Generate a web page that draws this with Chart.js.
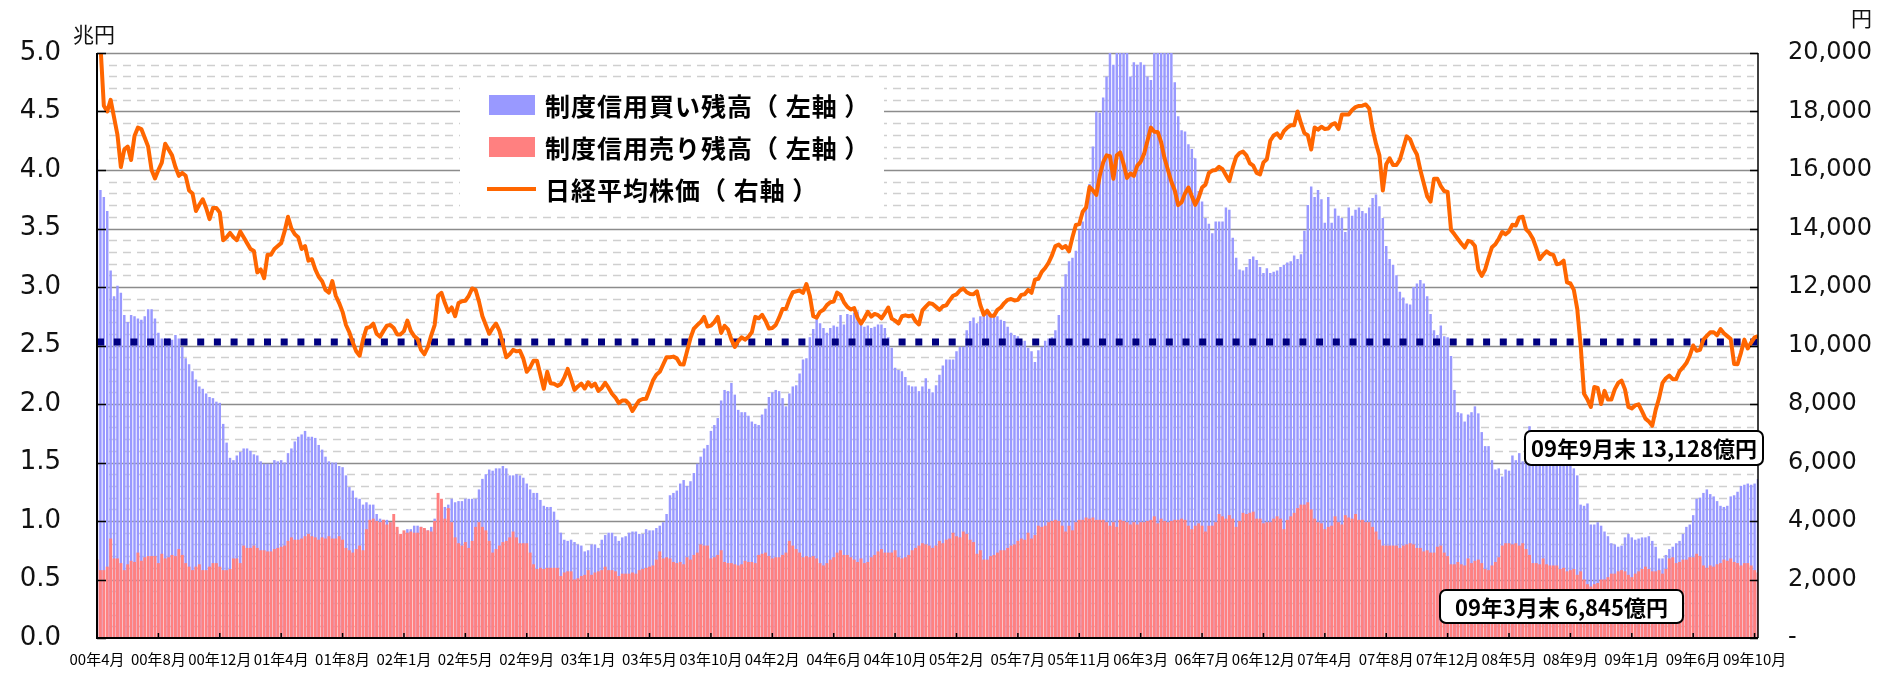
<!DOCTYPE html>
<html lang="ja">
<head>
<meta charset="utf-8">
<title>制度信用残高と日経平均株価</title>
<script src="https://cdn.jsdelivr.net/npm/chart.js@4.4.0/dist/chart.umd.min.js"></script>
<style>
  html, body { margin: 0; padding: 0; background: #fff; }
  #wrap { width: 1892px; height: 673px; }
</style>
</head>
<body>
<div id="wrap"><canvas id="chart" width="1892" height="673"></canvas></div>
<script>
// 週次データ 2000年4月〜2009年10月（18週ごとに目盛ラベル）
const tickLabels = [
  '00年4月', '00年8月', '00年12月', '01年4月', '01年8月', '02年1月', '02年5月',
  '02年9月', '03年1月', '03年5月', '03年10月', '04年2月', '04年6月', '04年10月',
  '05年2月', '05年7月', '05年11月', '06年3月', '06年7月', '06年12月', '07年4月',
  '07年8月', '07年12月', '08年5月', '08年9月', '09年1月', '09年6月', '09年10月'
];
const LABEL_STEP = 18;

// 制度信用買い残高（兆円）
const buyBalance = [
  4.09,3.83,3.77,3.65,3.14,2.92,3.01,2.95,2.76,2.70,
  2.76,2.75,2.73,2.72,2.75,2.81,2.81,2.73,2.61,2.56,
  2.56,2.56,2.55,2.59,2.56,2.49,2.39,2.34,2.28,2.21,
  2.15,2.13,2.09,2.06,2.05,2.02,2.01,1.83,1.67,1.54,
  1.52,1.56,1.59,1.62,1.62,1.60,1.57,1.56,1.51,1.49,
  1.49,1.49,1.52,1.51,1.52,1.50,1.58,1.62,1.68,1.72,
  1.74,1.77,1.72,1.72,1.71,1.65,1.61,1.55,1.51,1.50,
  1.50,1.47,1.46,1.39,1.29,1.26,1.20,1.19,1.14,1.16,
  1.14,1.14,1.06,1.02,1.01,1.01,0.99,0.99,0.92,0.87,
  0.90,0.93,0.93,0.96,0.96,0.95,0.93,0.92,0.95,1.02,
  1.09,1.11,1.12,1.14,1.19,1.16,1.17,1.17,1.19,1.19,
  1.19,1.19,1.27,1.36,1.40,1.44,1.43,1.45,1.45,1.47,
  1.45,1.39,1.39,1.40,1.39,1.37,1.32,1.27,1.24,1.24,
  1.18,1.13,1.12,1.12,1.08,1.01,0.90,0.84,0.83,0.84,
  0.82,0.80,0.79,0.74,0.75,0.80,0.80,0.77,0.84,0.88,
  0.90,0.90,0.87,0.83,0.86,0.87,0.90,0.91,0.91,0.89,
  0.89,0.93,0.92,0.92,0.94,0.96,0.99,1.06,1.22,1.24,
  1.26,1.32,1.35,1.30,1.34,1.41,1.49,1.55,1.62,1.65,
  1.77,1.82,1.88,2.03,2.12,2.11,2.18,2.08,1.95,1.93,
  1.93,1.90,1.85,1.83,1.82,1.91,1.96,2.06,2.10,2.12,
  2.11,2.05,1.98,2.09,2.15,2.16,2.26,2.38,2.39,2.57,
  2.64,2.76,2.69,2.65,2.61,2.65,2.67,2.66,2.76,2.68,
  2.77,2.76,2.78,2.79,2.68,2.66,2.67,2.65,2.66,2.68,
  2.68,2.65,2.57,2.48,2.31,2.29,2.28,2.23,2.16,2.15,
  2.15,2.11,2.15,2.22,2.13,2.10,2.16,2.25,2.33,2.38,
  2.38,2.38,2.45,2.49,2.49,2.63,2.71,2.74,2.69,2.75,
  2.79,2.81,2.75,2.77,2.75,2.72,2.71,2.66,2.61,2.59,
  2.58,2.54,2.54,2.48,2.45,2.36,2.46,2.49,2.54,2.56,
  2.57,2.63,2.76,3.00,3.11,3.22,3.25,3.31,3.49,3.56,
  3.70,3.88,4.20,4.50,4.49,4.62,4.80,5.15,4.90,5.20,
  5.30,5.25,5.10,4.80,4.92,4.90,4.92,4.90,4.80,4.77,
  5.10,5.25,5.30,5.20,5.15,5.05,4.75,4.46,4.34,4.33,
  4.22,4.18,4.10,3.82,3.73,3.59,3.54,3.46,3.56,3.56,
  3.56,3.68,3.66,3.42,3.25,3.15,3.14,3.17,3.24,3.26,
  3.23,3.17,3.12,3.16,3.12,3.13,3.14,3.17,3.19,3.21,
  3.22,3.27,3.24,3.28,3.48,3.70,3.86,3.77,3.83,3.75,
  3.55,3.77,3.55,3.67,3.61,3.59,3.47,3.68,3.61,3.66,
  3.68,3.65,3.63,3.68,3.76,3.79,3.69,3.59,3.35,3.24,
  3.19,3.10,2.96,2.91,2.86,2.85,3.00,3.03,3.06,3.03,
  2.92,2.77,2.63,2.59,2.67,2.58,2.57,2.41,2.12,1.93,
  1.92,1.85,1.91,1.93,1.98,1.92,1.76,1.64,1.64,1.52,
  1.44,1.45,1.38,1.44,1.43,1.56,1.52,1.58,1.51,1.62,
  1.81,1.66,1.63,1.68,1.70,1.66,1.64,1.60,1.62,1.58,
  1.55,1.52,1.50,1.45,1.39,1.14,1.13,1.15,0.97,0.97,
  0.99,0.96,0.91,0.87,0.81,0.80,0.78,0.79,0.86,0.89,
  0.86,0.84,0.85,0.86,0.86,0.87,0.83,0.78,0.68,0.68,
  0.71,0.76,0.78,0.81,0.83,0.89,0.95,0.97,1.05,1.19,
  1.20,1.24,1.27,1.23,1.21,1.17,1.13,1.12,1.13,1.21,
  1.22,1.25,1.30,1.31,1.32,1.31,1.32,1.36
];

// 制度信用売り残高（兆円）
const sellBalance = [
  0.67,0.58,0.58,0.61,0.85,0.68,0.68,0.64,0.58,0.63,
  0.66,0.65,0.73,0.66,0.69,0.70,0.70,0.70,0.64,0.72,
  0.68,0.69,0.71,0.70,0.76,0.71,0.64,0.61,0.58,0.61,
  0.63,0.58,0.58,0.61,0.64,0.64,0.61,0.58,0.58,0.59,
  0.68,0.68,0.64,0.79,0.77,0.77,0.79,0.77,0.75,0.75,
  0.74,0.74,0.76,0.77,0.78,0.79,0.83,0.86,0.84,0.84,
  0.85,0.87,0.89,0.87,0.86,0.84,0.86,0.85,0.87,0.85,
  0.85,0.87,0.84,0.77,0.75,0.73,0.76,0.79,0.75,0.93,
  1.01,1.02,1.00,0.99,1.01,0.97,0.99,1.06,0.95,0.89,
  0.92,0.90,0.91,0.90,0.90,0.95,0.94,0.92,0.91,1.00,
  1.24,1.19,1.02,1.11,0.99,0.86,0.81,0.79,0.82,0.77,
  0.83,0.95,0.99,0.95,0.92,0.83,0.73,0.76,0.79,0.82,
  0.83,0.86,0.91,0.86,0.81,0.81,0.81,0.73,0.63,0.59,
  0.60,0.59,0.60,0.60,0.60,0.60,0.53,0.56,0.57,0.57,
  0.50,0.51,0.53,0.54,0.58,0.54,0.56,0.57,0.58,0.61,
  0.58,0.58,0.57,0.53,0.55,0.55,0.55,0.56,0.55,0.58,
  0.59,0.60,0.61,0.62,0.67,0.74,0.68,0.69,0.68,0.65,
  0.64,0.65,0.63,0.69,0.67,0.71,0.73,0.80,0.79,0.79,
  0.68,0.69,0.71,0.75,0.65,0.64,0.64,0.63,0.62,0.63,
  0.66,0.65,0.65,0.64,0.71,0.72,0.73,0.70,0.68,0.69,
  0.69,0.71,0.73,0.83,0.79,0.76,0.73,0.69,0.70,0.69,
  0.70,0.68,0.64,0.62,0.64,0.67,0.69,0.73,0.75,0.71,
  0.71,0.69,0.67,0.65,0.68,0.64,0.65,0.69,0.71,0.74,
  0.76,0.73,0.73,0.73,0.75,0.69,0.68,0.69,0.71,0.75,
  0.77,0.79,0.81,0.80,0.79,0.77,0.79,0.83,0.81,0.84,
  0.85,0.90,0.87,0.86,0.91,0.89,0.84,0.82,0.72,0.75,
  0.67,0.67,0.70,0.71,0.73,0.75,0.75,0.77,0.79,0.80,
  0.83,0.85,0.84,0.90,0.85,0.88,0.96,0.95,0.96,0.99,
  1.00,1.01,1.00,0.96,0.91,0.96,0.92,0.99,1.01,1.01,
  1.03,1.02,1.03,1.01,1.01,1.01,0.99,0.96,0.99,0.95,
  1.01,1.00,0.99,0.97,0.99,0.97,0.99,0.99,1.00,1.01,
  1.04,0.98,1.02,1.00,0.99,1.00,1.01,1.01,1.02,1.01,
  0.96,0.93,0.96,0.98,0.96,0.91,0.96,0.96,0.99,1.06,
  1.04,1.02,1.05,1.02,0.95,1.00,1.07,1.06,1.07,1.08,
  1.02,1.02,0.98,0.99,0.99,1.02,1.04,1.02,0.93,1.01,
  1.04,1.07,1.11,1.14,1.14,1.16,1.10,1.02,0.99,0.98,
  0.93,0.95,0.96,1.04,0.99,0.97,1.05,1.03,1.02,1.06,
  1.01,1.01,0.99,0.99,0.95,0.91,0.84,0.79,0.79,0.79,
  0.79,0.79,0.77,0.79,0.80,0.81,0.80,0.77,0.77,0.74,
  0.75,0.73,0.73,0.78,0.79,0.73,0.70,0.63,0.63,0.65,
  0.63,0.62,0.68,0.64,0.66,0.67,0.64,0.59,0.58,0.62,
  0.65,0.69,0.79,0.81,0.81,0.80,0.81,0.79,0.81,0.76,
  0.71,0.64,0.64,0.63,0.68,0.63,0.62,0.62,0.62,0.59,
  0.60,0.57,0.58,0.59,0.54,0.57,0.50,0.46,0.44,0.46,
  0.47,0.50,0.50,0.52,0.55,0.55,0.57,0.58,0.57,0.54,
  0.52,0.55,0.57,0.59,0.61,0.59,0.57,0.57,0.58,0.55,
  0.59,0.68,0.69,0.64,0.65,0.67,0.67,0.69,0.69,0.72,
  0.70,0.62,0.60,0.62,0.61,0.63,0.64,0.67,0.66,0.68,
  0.65,0.64,0.62,0.64,0.64,0.62,0.58,0.56
];

// 日経平均株価（円）
const nikkei = [
  20500,20300,18200,18000,18400,17800,17200,16100,16700,16800,
  16340,17160,17450,17400,17100,16800,16000,15710,16000,16250,
  16900,16700,16500,16100,15800,15900,15800,15300,15200,14600,
  14810,15000,14700,14320,14700,14700,14550,13600,13700,13850,
  13700,13600,13900,13700,13500,13300,13230,12500,12600,12300,
  13100,13100,13300,13400,13500,13900,14400,14000,13800,13700,
  13300,13400,12900,12950,12600,12350,12200,11900,11810,12200,
  11700,11450,11150,10700,10450,10100,9800,9650,10200,10600,
  10630,10750,10400,10300,10500,10680,10700,10600,10380,10380,
  10490,10850,10500,10320,10220,9850,9700,9950,10350,10700,
  11700,11800,11450,11150,11300,11000,11450,11510,11530,11700,
  11950,11900,11500,11000,10700,10400,10600,10750,10500,10050,
  9600,9700,9850,9800,9820,9550,9100,9250,9480,9480,
  9000,8520,9100,8710,8690,8620,8680,8900,9200,8850,
  8480,8600,8700,8530,8740,8600,8700,8450,8550,8720,
  8550,8350,8220,8030,8120,8120,8000,7760,7950,8120,
  8170,8180,8480,8800,9000,9100,9350,9600,9600,9620,
  9560,9360,9350,9800,10250,10580,10700,10800,10980,10650,
  10680,10800,10980,10430,10670,10550,10200,9950,10150,10280,
  10200,10300,10450,10980,10930,11050,10850,10580,10600,10700,
  10950,11250,11250,11570,11820,11850,11880,11800,12100,11700,
  11000,10950,11150,11220,11380,11480,11500,11810,11730,11480,
  11320,11230,11280,10950,10750,10930,11150,10990,11080,11040,
  10930,11100,11300,10920,10850,10750,11000,11030,11000,11030,
  10830,10720,11200,11330,11450,11420,11320,11220,11340,11370,
  11550,11700,11750,11880,11950,11820,11760,11750,11850,11380,
  11050,11190,11020,11020,11220,11300,11450,11560,11590,11540,
  11560,11730,11750,11900,11800,12250,12280,12520,12650,12830,
  13080,13400,13450,13330,13400,13220,13700,14120,14150,14570,
  14720,15420,15300,15150,15800,16260,16500,16470,15700,16500,
  16600,16200,15730,15880,15800,16150,16280,16550,17000,17450,
  17310,17300,16950,16400,16000,15600,15300,14800,14900,15200,
  15400,15100,14810,15050,15400,15500,15900,15980,16000,16110,
  16030,15820,15620,16080,16450,16580,16630,16500,16230,16150,
  15900,15850,16260,16370,17000,17180,17250,17100,17330,17450,
  17530,17530,18000,17600,17260,17190,16700,17450,17380,17480,
  17400,17420,17550,17600,17400,17900,17900,17900,18050,18150,
  18190,18200,18240,18100,17400,16900,16500,15300,16200,16400,
  16170,16170,16350,16750,17150,17050,16750,16530,16000,15550,
  15100,14920,15700,15700,15450,15280,15250,13950,13800,13640,
  13490,13350,13580,13540,13400,12600,12380,12600,13000,13360,
  13460,13650,13880,13800,13900,14130,14100,14380,14400,13970,
  13850,13650,13330,12950,13100,13220,13130,13100,12780,12800,
  12900,12160,12120,11900,11250,10000,8350,8150,7900,8580,
  8550,8000,8450,8150,8150,8500,8720,8800,8500,7900,
  7850,7950,7990,7750,7500,7400,7260,7800,8200,8720,
  8880,8970,8850,8850,9120,9250,9400,9650,10000,9820,
  9850,10200,10330,10450,10450,10350,10560,10420,10320,10220,
  9370,9360,9750,10200,9900,10100,10280,10320
];

// 点線の基準水準（左軸・兆円）
const refLevel = 2.53;

const legendItems = [
  { text: '制度信用買い残高（ 左軸 ）', color: '#9999FF', kind: 'box' },
  { text: '制度信用売り残高（ 左軸 ）', color: '#FF8080', kind: 'box' },
  { text: '日経平均株価（ 右軸 ）', color: '#FF6600', kind: 'line' }
];
const noteTexts = ['09年9月末 13,128億円', '09年3月末 6,845億円'];

const labels = buyBalance.map((_, i) => (i % LABEL_STEP === 0 ? tickLabels[i / LABEL_STEP] : ''));

function hline(ctx, x1, x2, y) {
  ctx.beginPath();
  ctx.moveTo(x1, y);
  ctx.lineTo(x2, y);
  ctx.stroke();
}

function noteBox(ctx, x, y, w, h, text) {
  ctx.beginPath();
  ctx.roundRect(x, y, w, h, 6);
  ctx.fillStyle = '#fff';
  ctx.fill();
  ctx.lineWidth = 2;
  ctx.strokeStyle = '#000';
  ctx.stroke();
  ctx.fillStyle = '#000';
  ctx.font = "bold 22px 'Noto Sans CJK JP'";
  ctx.textAlign = 'center';
  ctx.textBaseline = 'middle';
  ctx.fillText(text, x + w / 2, y + h / 2 + 1);
}

// 目盛線・枠・凡例・注記
const decor = {
  id: 'decor',
  beforeDatasetsDraw(chart) {
    const { ctx, chartArea: a, scales: { yL } } = chart;
    ctx.save();
    ctx.lineWidth = 1.5;
    ctx.strokeStyle = '#cfcfcf';
    ctx.setLineDash([8, 6]);
    for (let k = 1; k < 50; k++) {
      if (k % 5 === 0) continue;
      hline(ctx, a.left + 12, a.right - 4, Math.round(yL.getPixelForValue(k / 10)) + 0.5);
    }
    ctx.setLineDash([]);
    ctx.strokeStyle = '#8c8c8c';
    for (let k = 5; k <= 50; k += 5) {
      hline(ctx, a.left, a.right, Math.round(yL.getPixelForValue(k / 10)) + 0.5);
    }
    ctx.restore();
  },
  afterDatasetsDraw(chart) {
    const { ctx, chartArea: a, scales: { x, yL, yR } } = chart;
    ctx.save();

    // 枠線
    ctx.strokeStyle = '#000';
    ctx.lineWidth = 2;
    ctx.beginPath();
    ctx.moveTo(a.left, a.top);
    ctx.lineTo(a.left, a.bottom);
    ctx.lineTo(a.right, a.bottom);
    ctx.stroke();
    ctx.lineWidth = 1.5;
    ctx.beginPath();
    ctx.moveTo(a.right, a.top);
    ctx.lineTo(a.right, a.bottom);
    ctx.stroke();

    // 内向き目盛
    for (let v = 0; v <= 5; v += 0.5) hline(ctx, a.left, a.left + 9, Math.round(yL.getPixelForValue(v)) + 0.5);
    for (let v = 0; v <= 20000; v += 2000) hline(ctx, a.right - 8, a.right, Math.round(yR.getPixelForValue(v)) + 0.5);
    x.ticks.forEach(t => {
      const px = x.getPixelForValue(t.value);
      ctx.beginPath();
      ctx.moveTo(px, a.bottom);
      ctx.lineTo(px, a.bottom - 5);
      ctx.stroke();
    });

    // 凡例
    ctx.fillStyle = '#fff';
    ctx.fillRect(460, 82, 424, 129);
    ctx.font = "bold 25px 'Noto Sans CJK JP'";
    ctx.letterSpacing = '1px';
    ctx.textAlign = 'left';
    ctx.textBaseline = 'middle';
    legendItems.forEach((it, i) => {
      const cy = 105 + i * 42;
      if (it.kind === 'box') {
        ctx.fillStyle = it.color;
        ctx.fillRect(489, cy - 10, 46, 20);
      } else {
        ctx.strokeStyle = it.color;
        ctx.lineWidth = 4;
        hline(ctx, 487, 536, cy);
      }
      ctx.fillStyle = '#000';
      ctx.fillText(it.text, 545, cy + 1);
    });
    ctx.letterSpacing = '0px';

    // 注記
    noteBox(ctx, 1525, 431, 238, 34, noteTexts[0]);
    noteBox(ctx, 1440, 590, 243, 33, noteTexts[1]);

    // 単位
    ctx.fillStyle = '#111';
    ctx.font = "21px 'Noto Sans CJK JP'";
    ctx.textAlign = 'left';
    ctx.fillText('兆円', 73, 34);
    ctx.fillText('円', 1851, 18);
    ctx.restore();
  }
};

new Chart(document.getElementById('chart'), {
  type: 'bar',
  data: {
    labels: labels,
    datasets: [
      {
        type: 'line',
        label: '日経平均株価（右軸）',
        data: nikkei,
        yAxisID: 'yR',
        borderColor: '#FF6600',
        borderWidth: 4,
        pointRadius: 0,
        tension: 0,
        borderJoinStyle: 'round',
        clip: 0,
        order: 0
      },
      {
        type: 'line',
        label: '基準',
        data: labels.map(() => refLevel),
        yAxisID: 'yL',
        borderColor: '#000080',
        borderWidth: 7,
        borderDash: [7, 9.7],
        borderCapStyle: 'butt',
        pointRadius: 0,
        clip: 0,
        order: 1
      },
      {
        label: '制度信用売り残高（左軸）',
        data: sellBalance,
        yAxisID: 'yL',
        backgroundColor: '#FF8080',
        grouped: false,
        barPercentage: 0.85,
        categoryPercentage: 1,
        order: 2
      },
      {
        label: '制度信用買い残高（左軸）',
        data: buyBalance,
        yAxisID: 'yL',
        backgroundColor: '#9999FF',
        grouped: false,
        barPercentage: 0.72,
        categoryPercentage: 1,
        order: 3
      }
    ]
  },
  options: {
    responsive: false,
    animation: false,
    devicePixelRatio: 1,
    layout: { padding: { top: 53, right: 20, bottom: 0, left: 0 } },
    plugins: { legend: { display: false }, tooltip: { enabled: false } },
    scales: {
      x: {
        offset: false,
        grid: { display: false, drawTicks: false },
        border: { display: false },
        afterBuildTicks: s => { s.ticks = s.ticks.filter(t => t.value % LABEL_STEP === 0); },
        afterFit: s => { s.height = 35; },
        ticks: {
          autoSkip: false,
          maxRotation: 0,
          padding: 12,
          color: '#000',
          font: { family: "'Noto Sans CJK JP'", size: 15 }
        }
      },
      yL: {
        position: 'left',
        min: 0,
        max: 5,
        // 目盛線は描かず、tickLength でラベル位置だけ確保
        grid: { display: false, drawTicks: true, tickLength: 36 },
        border: { display: false },
        afterFit: s => { s.width = 97; },
        ticks: {
          stepSize: 0.5,
          padding: 0,
          color: '#111',
          font: { family: "'DejaVu Sans'", size: 26 },
          callback: v => v.toFixed(1)
        }
      },
      yR: {
        position: 'right',
        min: 0,
        max: 20000,
        grid: { display: false, drawTicks: true, tickLength: 30 },
        border: { display: false },
        afterFit: s => { s.width = 114; },
        ticks: {
          stepSize: 2000,
          padding: 0,
          color: '#111',
          font: { family: "'DejaVu Sans'", size: 24 },
          callback: v => (v === 0 ? '-' : v.toLocaleString('en-US'))
        }
      }
    }
  },
  plugins: [decor]
});
</script>
</body>
</html>
